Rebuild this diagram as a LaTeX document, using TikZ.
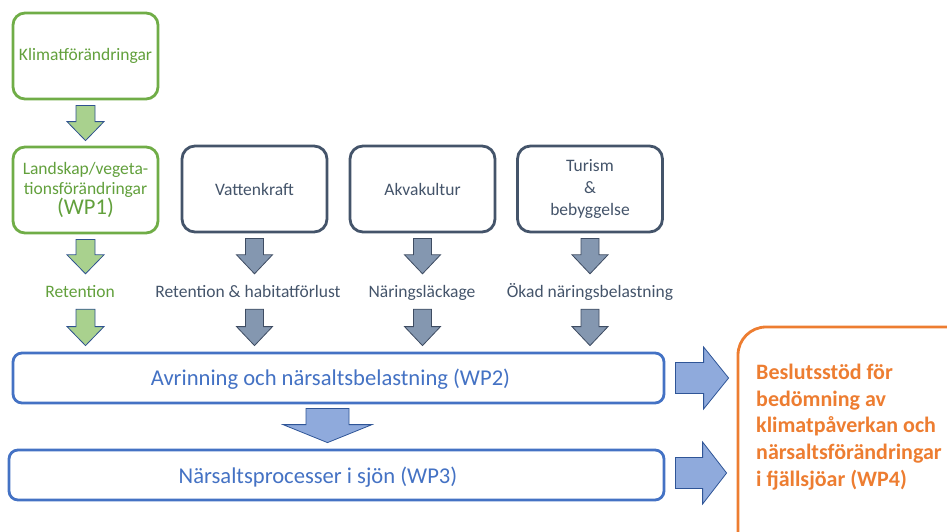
\documentclass[tikz,border=0pt]{standalone}
\usepackage{fontspec}
\setmainfont{Carlito}
\usetikzlibrary{calc}
\definecolor{grn}{HTML}{70AD47}
\definecolor{grntxt}{HTML}{62A03C}
\definecolor{grnfill}{HTML}{A9D18E}
\definecolor{arrline}{HTML}{2F528F}
\definecolor{slate}{HTML}{44546A}
\definecolor{slateline}{HTML}{3E4C62}
\definecolor{slatefill}{HTML}{8497B0}
\definecolor{blu}{HTML}{4472C4}
\definecolor{blufill}{HTML}{8FAADC}
\definecolor{bluline}{HTML}{2F5597}
\definecolor{org}{HTML}{ED7D31}

% down block arrow: style, from, to, shaft half width, head half width, head length
\newcommand\dnarrow[6]{%
\draw[#1] let \p1=(#2), \p2=(#3) in
 (\x1-#4,\y1) -- (\x1+#4,\y1) -- (\x1+#4,\y2+#6) -- (\x1+#5,\y2+#6) -- (\x1,\y2)
 -- (\x1-#5,\y2+#6) -- (\x1-#4,\y2+#6) -- cycle;}
% right block arrow: style, from, to, shaft half height, head half height, head length
\newcommand\rtarrow[6]{%
\draw[#1] let \p1=(#2), \p2=(#3) in
 (\x1,\y1+#4) -- (\x2-#6,\y1+#4) -- (\x2-#6,\y1+#5) -- (\x2,\y1)
 -- (\x2-#6,\y1-#5) -- (\x2-#6,\y1-#4) -- (\x1,\y1-#4) -- cycle;}

\tikzset{
  gbox/.style={draw=grn, line width=2.8pt, rounded corners=12pt, fill=white,
    minimum width=145pt, minimum height=86pt, align=center, text=grntxt,
    inner sep=0pt, font=\fontsize{17.5}{20}\selectfont},
  dbox/.style={draw=slate, line width=2.8pt, rounded corners=13pt, fill=white,
    minimum width=145pt, minimum height=86pt, align=center, text=slate,
    inner sep=0pt, font=\fontsize{17.5}{22}\selectfont},
  lab/.style={inner sep=0pt, text height=12pt, text depth=4pt,
    font=\fontsize{17.5}{20}\selectfont},
  bbox/.style={draw=blu, line width=2.8pt, rounded corners=9pt, fill=white,
    minimum height=50pt, inner sep=0pt},
  btxt/.style={text=blu, inner sep=0pt, font=\fontsize{22.6}{26}\selectfont},
  obox/.style={draw=org, line width=2.8pt, rounded corners=28pt,
    minimum width=252pt, minimum height=233pt, inner sep=0pt},
  otxt/.style={text=org, align=left, inner sep=0pt,
    font=\fontsize{22}{26.7}\selectfont\bfseries},
  garr/.style={fill=grnfill, draw=arrline, line width=0.8pt, line join=miter},
  sarr/.style={fill=slatefill, draw=slateline, line width=0.8pt, line join=miter},
  barr/.style={fill=blufill, draw=bluline, line width=0.8pt, line join=miter},
}

\begin{document}
\begin{tikzpicture}[x=1pt, y=-1pt]
\useasboundingbox (0,0) rectangle (947,531);

% top boxes
\node[gbox] (klimat) at (85.5,56) {Klimatförändringar};
\node[gbox] (land) at (85.5,190) {Landskap/vegeta-\\tionsförändringar\\[0pt]{\fontsize{22.5}{24}\selectfont(WP1)}};
\node[dbox] (vatten) at (254.5,189) {Vattenkraft};
\node[dbox] (akva) at (422.5,189) {Akvakultur};
\node[dbox] (turism) at (590,189) {Turism\\\&\\bebyggelse};

% labels
\node[lab, text=grntxt] (lret) at (80,293) {Retention};
\node[lab, text=slate] (lvat) at (248,293) {Retention \& habitatförlust};
\node[lab, text=slate] (lakv) at (422,293) {Näringsläckage};
\node[lab, text=slate] (ltur) at (590,293) {Ökad näringsbelastning};

% blue boxes
\node[bbox, minimum width=651pt] (avr) at (338.5,378) {};
\node[btxt] (avrtxt) at (330.5,379) {Avrinning och närsaltsbelastning (WP2)};
\node[bbox, minimum width=655pt] (nars) at (336.5,475) {};
\node[btxt] (narstxt) at (318,477) {Närsaltsprocesser i sjön (WP3)};

% orange box
\begin{scope}
\clip (0,0) rectangle (947,531);
\node[obox] (wp4) at (864,443.5) {};
\end{scope}
\node[otxt, anchor=west] (wp4txt) at (756,427) {Beslutsstöd för\\bedömning av\\klimatpåverkan och\\närsaltsförändringar\\i fjällsjöar (WP4)};

% arrows
\dnarrow{garr}{$(klimat.south)+(0,5)$}{$(land.north)+(0,-5)$}{9.5pt}{18.5pt}{19pt}
\dnarrow{garr}{$(land.south)+(0,5)$}{$(land.south |- lret.north)+(0,-11)$}{9.5pt}{18.5pt}{19pt}
\dnarrow{garr}{$(land.south |- lret.south)+(0,8)$}{$(land.south |- avr.north)+(0,-6)$}{9.5pt}{18.5pt}{19pt}

\dnarrow{sarr}{$(vatten.south)+(0,5)$}{$(vatten.south |- lvat.north)+(0,-11)$}{9pt}{18pt}{19pt}
\dnarrow{sarr}{$(vatten.south |- lvat.south)+(0,8)$}{$(vatten.south |- avr.north)+(0,-6)$}{9pt}{18pt}{19pt}
\dnarrow{sarr}{$(akva.south)+(0,5)$}{$(akva.south |- lakv.north)+(0,-11)$}{9pt}{18pt}{19pt}
\dnarrow{sarr}{$(akva.south |- lakv.south)+(0,8)$}{$(akva.south |- avr.north)+(0,-6)$}{9pt}{18pt}{19pt}
\dnarrow{sarr}{$(turism.south)+(0,5)$}{$(turism.south |- ltur.north)+(0,-11)$}{9pt}{18pt}{19pt}
\dnarrow{sarr}{$(turism.south |- ltur.south)+(0,8)$}{$(turism.south |- avr.north)+(0,-6)$}{9pt}{18pt}{19pt}

\dnarrow{barr}{$(avr.south)+(-11,4)$}{$(avr.south |- nars.north)+(-11,-6)$}{21.5pt}{44.5pt}{18pt}

\rtarrow{barr}{$(avr.east)+(10,0)$}{$(wp4.west |- avr.east)+(-8,0)$}{15.5pt}{31pt}{25pt}
\rtarrow{barr}{$(nars.east)+(10,-2)$}{$(wp4.west |- nars.east)+(-10,0)$}{15.5pt}{31pt}{24pt}
\end{tikzpicture}
\end{document}
